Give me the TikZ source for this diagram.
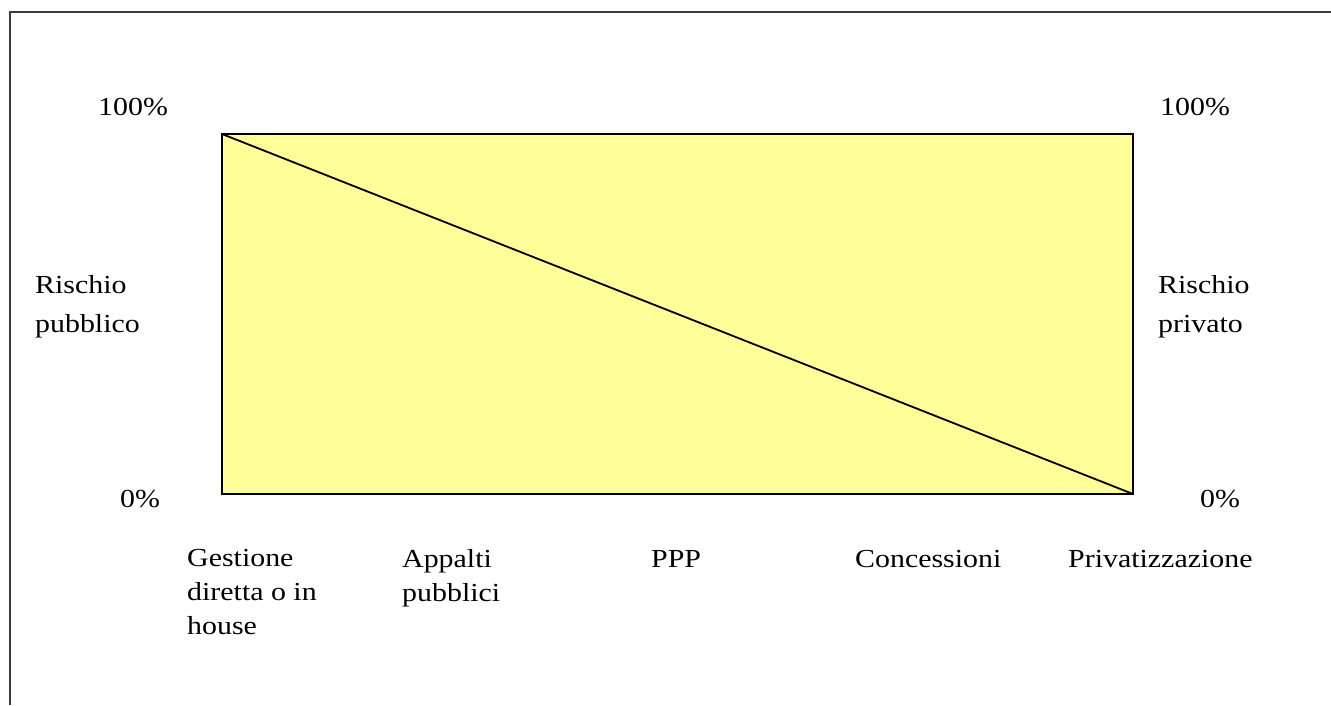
\documentclass[tikz,border=0pt]{standalone}
\usepackage{fontspec}
\setmainfont[FakeStretch=1.15]{Liberation Serif}
\usepackage{xcolor}
\usetikzlibrary{positioning}
\definecolor{riskyellow}{RGB}{255,255,153}
\definecolor{framegray}{RGB}{60,60,60}

\begin{document}
\begin{tikzpicture}[x=1pt,y=-1pt,font=\fontsize{26}{34}\selectfont]
\tikzset{lbl/.style={inner sep=0pt,anchor=base west,align=left},
side/.style={lbl,font=\fontsize{26}{39}\selectfont}}
\useasboundingbox (0,0) rectangle (1331,705);
% frame
\draw[framegray,line width=1.5pt] (10,705) -- (10,12) -- (1331,12);
% risk box
\coordinate (tl) at (222,134);
\coordinate (br) at (1133,494);
\draw[line width=1.8pt,fill=riskyellow] (tl) rectangle (br);
\draw[line width=1.8pt] (tl) -- (br);
% scale labels (base = last line)
\node[lbl] (lt) at (98,115) {100\%};
\node[lbl] (lb) at (120,507) {0\%};
\node[lbl] (rt) at (1160,115) {100\%};
\node[lbl] (rb) at (1200,507) {0\%};
\node[side] (pub) at (35,332) {Rischio\\pubblico};
\node[side] (pri) at (1158,332) {Rischio\\privato};
% forms
\node[lbl] (f1) at (187,634) {Gestione\\diretta o in\\house};
\node[lbl] (f2) at (402,601) {Appalti\\pubblici};
\node[lbl] (f3) at (651,567) {PPP};
\node[lbl] (f4) at (855,567) {Concessioni};
\node[lbl] (f5) at (1068,567) {Privatizzazione};
\end{tikzpicture}
\end{document}
